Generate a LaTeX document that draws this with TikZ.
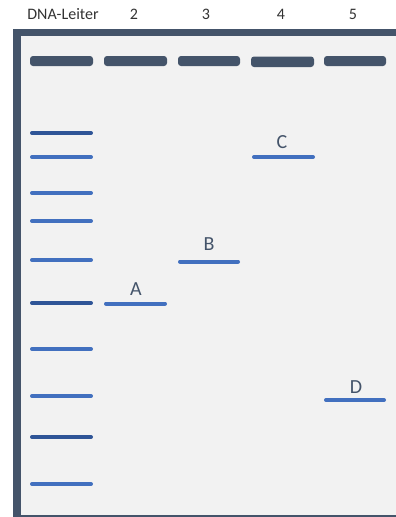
\documentclass[tikz,border=0pt]{standalone}
\usepackage{fontspec}
\setmainfont{Carlito}
\definecolor{frame}{HTML}{44546A}
\definecolor{gel}{HTML}{F2F2F2}
\definecolor{banddark}{HTML}{2F5597}
\definecolor{bandmid}{HTML}{4270BF}
\definecolor{lbl}{HTML}{44546A}
\definecolor{hdr}{HTML}{333333}
\begin{document}
\begin{tikzpicture}[x=1pt,y=-1pt,
  well/.style={fill=frame,rounded corners=3pt},
  bandd/.style={line width=4pt,line cap=round,draw=banddark},
  bandm/.style={line width=4pt,line cap=round,draw=bandmid},
  hdrtext/.style={font=\fontsize{16}{18}\selectfont,text=hdr,inner sep=0pt},
  lettext/.style={font=\fontsize{20}{22}\selectfont,text=lbl,inner sep=0pt}]
\useasboundingbox (0,0) rectangle (396,517);
\fill[white] (0,0) rectangle (396,517);
% gel
\fill[gel] (13,29) rectangle (396,516);
\fill[frame] (13,29) rectangle (396,36);
\fill[frame] (13,29) rectangle (21,517);
\fill[frame] (13,514.5) rectangle (396,516.5);
% header labels
\node[hdrtext] (h1) at (63,14) {DNA-Leiter};
\node[hdrtext] (h2) at (134,14) {2};
\node[hdrtext] (h3) at (206,14) {3};
\node[hdrtext] (h4) at (281,14) {4};
\node[hdrtext] (h5) at (353,14) {5};
% wells
\fill[well] (30,56) rectangle (93,66);
\fill[well] (104,56) rectangle (167,66);
\fill[well] (178,56) rectangle (240,66);
\fill[well] (251,56.5) rectangle (314,67);
\fill[well] (324,56) rectangle (386,66);
% ladder
\draw[bandd] (32,133) -- (91,133);
\draw[bandm] (32,157) -- (91,157);
\draw[bandm] (32,193) -- (91,193);
\draw[bandm] (32,221) -- (91,221);
\draw[bandm] (32,260) -- (91,260);
\draw[bandd] (32,303) -- (91,303);
\draw[bandm] (32,349) -- (91,349);
\draw[bandm] (32,396) -- (91,396);
\draw[bandd] (32,437) -- (91,437);
\draw[bandm] (32,484) -- (91,484);
% samples
\draw[bandm] (106,303.5) -- (165,303.5);
\node[lettext] (A) at (136,289) {A};
\draw[bandm] (180,261.5) -- (238,261.5);
\node[lettext] (B) at (209,244) {B};
\draw[bandm] (254,157) -- (313,157);
\node[lettext] (C) at (282,142) {C};
\draw[bandm] (326,400) -- (384,400);
\node[lettext] (D) at (356,387) {D};
\end{tikzpicture}
\end{document}
